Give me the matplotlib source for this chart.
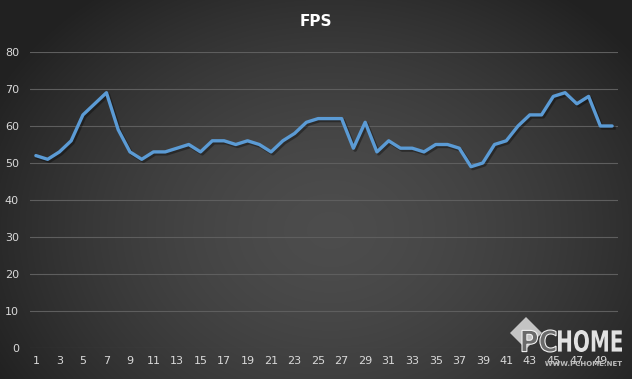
import numpy as np
import matplotlib.pyplot as plt
from matplotlib.patches import Polygon, PathPatch
from matplotlib.textpath import TextPath
from matplotlib.font_manager import FontProperties
from matplotlib.transforms import Affine2D, IdentityTransform

frames = list(range(1, 51))
fps = [52, 51, 53, 56, 63, 66, 69, 59, 53, 51,
       53, 53, 54, 55, 53, 56, 56, 55, 56, 55,
       53, 56, 58, 61, 62, 62, 62, 54, 61, 53,
       56, 54, 54, 53, 55, 55, 54, 49, 50, 55,
       56, 60, 63, 63, 68, 69, 66, 68, 60, 60]
y_ticks = [0, 10, 20, 30, 40, 50, 60, 70, 80]
x_ticks = list(range(1, 50, 2))

W, H = 632, 379
fig = plt.figure(figsize=(W / 100, H / 100), dpi=100)

# radial gradient background
bg = fig.add_axes([0, 0, 1, 1], zorder=-10)
yy, xx = np.mgrid[0:H, 0:W]
r = np.sqrt(((xx - 330) / 380.0) ** 2 + ((yy - 230) / 300.0) ** 2)
r = np.clip(r, 0, 1)
light, dark = 0.30, 0.13
img = light - (light - dark) * r ** 1.6
bg.imshow(np.dstack([img, img, img]), aspect='auto', extent=[0, 1, 0, 1], origin='upper')
bg.axis('off')

ax = fig.add_axes([30 / W, 31 / H, 588 / W, 296 / H])
ax.patch.set_alpha(0)
for s in ax.spines.values():
    s.set_visible(False)

ax.set_ylim(0, 80)
ax.set_xlim(0.5, 50.5)
ax.set_yticks(y_ticks)
ax.set_xticks(x_ticks)
ax.grid(axis='y', color='#5e5e5e', linewidth=0.8)
ax.set_axisbelow(True)
ax.tick_params(length=0, colors='#d9d9d9', labelsize=8)
ax.tick_params(axis='y', pad=8)
ax.tick_params(axis='x', pad=6)

# shadow then line
ax.plot(np.array(frames) + 0.15, np.array(fps) - 0.5, color='black', alpha=0.35,
        linewidth=2.6, solid_joinstyle='round')
ax.plot(frames, fps, color='#5b9bd5', linewidth=2.4, solid_joinstyle='round',
        solid_capstyle='round')

fig.text(316 / W, 1 - 22 / H, 'FPS', color='white', fontsize=11,
         fontweight='bold', ha='center', va='center')


# watermark (pixel coords, origin bottom-left)
def px(x, y):
    return [x, H - y]


diamond = Polygon([px(510, 333), px(526, 317), px(542, 333), px(526, 349)],
                  closed=True, transform=IdentityTransform(), facecolor='#d4d4d4',
                  alpha=0.9, edgecolor='none', zorder=5)
fig.patches.append(diamond)

bold = FontProperties(family='DejaVu Sans', weight='bold')


def fit_text(s, x0, y0, x1, y1, face, edge, lw=0.0):
    tp = TextPath((0, 0), s, size=10, prop=bold)
    ext = tp.get_extents()
    sx = (x1 - x0) / ext.width
    sy = (y1 - y0) / ext.height
    tr = Affine2D().translate(-ext.x0, -ext.y0).scale(sx, sy).translate(x0, H - y1)
    path = tr.transform_path(tp)
    fig.patches.append(PathPatch(path, transform=IdentityTransform(), facecolor=face,
                                 edgecolor=edge, linewidth=lw, zorder=6))


fit_text('PC', 522, 330, 556, 352, '#6a6a6a', '#f0f0f0', 0.8)
fit_text('HOME', 558, 330, 622, 352, '#e2e2e2', 'none')
fit_text('WWW.PCHOME.NET', 545, 361, 622, 366, '#bdbdbd', 'none')

fig.savefig('out.png', dpi=100)
